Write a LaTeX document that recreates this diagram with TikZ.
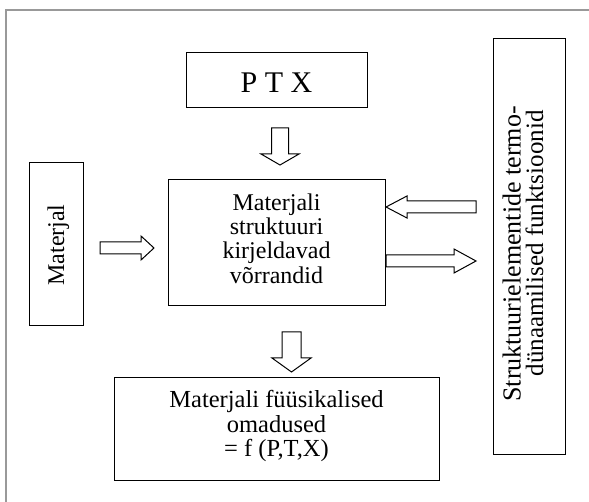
\documentclass[tikz,border=0pt]{standalone}
\usepackage{fontspec}
\setmainfont{Liberation Serif}
\begin{document}
\begin{tikzpicture}[x=1pt,y=-1pt,
  box/.style={draw=black,line width=1pt,inner sep=0pt},
  txt/.style={inner sep=0pt,anchor=base,font=\fontsize{24}{25}\selectfont},
  blockarrow/.style={draw=black,line width=1pt,fill=white,line join=miter}]
\useasboundingbox (0,0) rectangle (589,502);
\fill[white] (0,0) rectangle (589,502);
% outer frame
\draw[gray!80,line width=1.2pt] (6,510) -- (6,10) -- (595,10);
% boxes
\node[box,minimum width=181pt,minimum height=55pt] (ptx) at (276.5,80.5) {};
\node[txt,font=\fontsize{30}{32}\selectfont] (ptxtext) at (276.5,93) {P T X};
\node[box,minimum width=54pt,minimum height=163pt] (mat) at (56,244.5) {};
\node[txt,rotate=90] (mattext) at (64,245) {Materjal};
\node[box,minimum width=217pt,minimum height=126pt] (center) at (276.5,243) {};
\node[txt] (c1) at (276.5,210.5) {Materjali};
\node[txt] (c2) at (276.5,234.8) {struktuuri};
\node[txt] (c3) at (276.5,259) {kirjeldavad};
\node[txt] (c4) at (276.5,283.3) {võrrandid};
\node[box,minimum width=72pt,minimum height=415pt] (right) at (529,246.5) {};
\node[txt,rotate=90,font=\fontsize{26}{27}\selectfont] (r1) at (520.5,254) {Struktuurielementide termo-};
\node[txt,rotate=90,font=\fontsize{25}{26}\selectfont] (r2) at (543,243.5) {dünaamilised funktsioonid};
\node[box,minimum width=325pt,minimum height=102pt] (bottom) at (276.5,429) {};
\node[txt,font=\fontsize{24.5}{25}\selectfont] (b1) at (276.5,408) {Materjali füüsikalised};
\node[txt,font=\fontsize{24.5}{25}\selectfont] (b2) at (276.5,432.5) {omadused};
\node[txt,font=\fontsize{24.5}{25}\selectfont] (b3) at (276.5,456) {= f (P,T,X)};
% block arrows
\draw[blockarrow] (271.5,128) -- (288.5,128) -- (288.5,154) -- (299,154) -- (280,165) -- (261,154) -- (271.5,154) -- cycle;
\draw[blockarrow] (282,332) -- (301,332) -- (301,358) -- (311,358) -- (291.5,372) -- (272,358) -- (282,358) -- cycle;
\draw[blockarrow] (100,242) -- (141,242) -- (141,236) -- (154,248) -- (141,260) -- (141,254) -- (100,254) -- cycle;
\draw[blockarrow] (476,201) -- (407,201) -- (407,196) -- (386,207) -- (407,218) -- (407,213) -- (476,213) -- cycle;
\draw[blockarrow] (386,255) -- (454,255) -- (454,249) -- (476,261) -- (454,273) -- (454,267) -- (386,267) -- cycle;
\end{tikzpicture}
\end{document}
